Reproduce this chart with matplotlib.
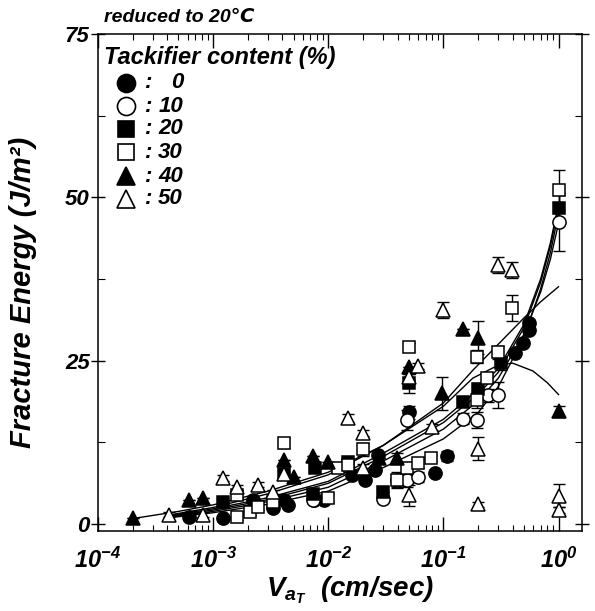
import matplotlib
matplotlib.use("Agg")
import matplotlib.pyplot as plt
import numpy as np
from matplotlib.ticker import LogLocator, FixedLocator, NullFormatter

plt.rcParams['font.family'] = ['Liberation Sans', 'DejaVu Sans']
plt.rcParams['font.weight'] = 'bold'
plt.rcParams['font.style'] = 'italic'
plt.rcParams['mathtext.fontset'] = 'custom'
plt.rcParams['mathtext.rm'] = 'Liberation Sans:bold:italic'
plt.rcParams['mathtext.it'] = 'Liberation Sans:bold:italic'
plt.rcParams['mathtext.bf'] = 'Liberation Sans:bold:italic'
plt.rcParams['mathtext.default'] = 'it'

# ---------------- data ----------------
labels = ['0', '10', '20', '30', '40', '50']

x0 = [6.2e-4, 1.22e-3, 2.2e-3, 3.3e-3, 4.1e-3, 4.5e-3, 7.5e-3, 9.2e-3, 0.0162, 0.0209, 0.0256, 0.027, 0.05, 0.085, 0.108, 0.42, 0.49, 0.55, 0.55]
y0 = [1.1, 0.9, 3.6, 2.4, 3.7, 2.9, 3.7, 3.7, 7.5, 6.7, 8.3, 10.6, 17.1, 7.8, 10.4, 26.2, 27.7, 29.7, 30.8]
e0 = [0, 0, 0, 0, 0, 0, 0, 0, 0, 0, 0, 0, 1.0, 0, 0.8, 0, 0, 0, 0]

x10 = [7.4e-3, 0.03, 0.0398, 0.0486, 0.0486, 0.0607, 0.149, 0.197, 0.246, 0.296, 1.0]
y10 = [3.6, 3.8, 6.7, 6.7, 15.9, 7.2, 16.1, 15.9, 19.7, 19.7, 46.2]
e10 = [0, 0, 1.0, 1.0, 1.5, 0.8, 0.8, 1.2, 1.0, 2.0, 4.5]

x20 = [1.22e-3, 4.1e-3, 7.4e-3, 7.7e-3, 0.0149, 0.03, 0.05, 0.149, 0.198, 0.315, 1.0]
y20 = [3.4, 7.7, 4.6, 8.6, 9.5, 4.9, 21.5, 18.7, 20.6, 24.6, 48.4]
e20 = [0, 0, 0, 0, 0, 0, 1.5, 0, 1.0, 1.0, 2.0]

x30 = [1.6e-3, 1.6e-3, 2.1e-3, 2.46e-3, 3.3e-3, 4.1e-3, 0.01, 0.0122, 0.0149, 0.0201, 0.0398, 0.0486, 0.05, 0.0607, 0.0787, 0.197, 0.197, 0.24, 0.296, 0.398, 1.0]
y30 = [1.1, 4.4, 1.8, 2.6, 3.4, 12.4, 4.0, 8.6, 9.0, 11.4, 6.7, 8.6, 27.1, 9.3, 10.1, 19.0, 25.6, 22.3, 26.3, 33.0, 51.1]
e30 = [0.5, 0.5, 0.5, 0.5, 0, 0.8, 0.6, 0.6, 0.6, 1.0, 1.2, 0.8, 0.6, 0.8, 0.5, 1.2, 1.0, 0.5, 1.0, 2.0, 3.0]

x40 = [2e-4, 6.2e-4, 8.2e-4, 4.1e-3, 5.0e-3, 7.4e-3, 0.01, 0.0277, 0.0398, 0.05, 0.098, 0.149, 0.198, 1.0]
y40 = [0.9, 3.7, 3.9, 9.8, 7.2, 10.4, 9.5, 10.1, 10.1, 24.0, 20.0, 29.8, 28.5, 17.2]
e40 = [0, 0, 0, 0, 0, 0, 0, 0, 0.8, 0, 2.5, 0, 2.5, 0.9]

x50 = [4.1e-4, 8.2e-4, 1.22e-3, 1.6e-3, 2.46e-3, 3.3e-3, 4.1e-3, 0.0149, 0.0201, 0.0201, 0.05, 0.05, 0.0607, 0.08, 0.1, 0.2, 0.2, 0.296, 0.398, 1.0, 1.0]
y50 = [1.4, 1.4, 7.0, 5.6, 6.0, 4.9, 7.6, 16.2, 13.9, 8.6, 4.4, 22.5, 24.2, 14.8, 32.7, 11.5, 3.0, 39.6, 38.9, 4.3, 2.1]
e50 = [0.4, 0.4, 0.4, 0.4, 0.4, 0.3, 0.4, 0.6, 0.5, 0.6, 1.6, 0.5, 0.5, 0.5, 1.2, 1.8, 0.4, 1.2, 1.2, 1.8, 0.5]

# fitted curves
cx0 = [4e-4, 1e-3, 3e-3, 1e-2, 3e-2, 0.1, 0.2, 0.3, 0.5, 0.7, 0.85, 1.0]
cy0 = [0.9, 1.7, 3.0, 5.0, 8.6, 13.0, 17.0, 21.0, 28.5, 36.0, 41.5, 47.5]
cx10 = [4e-4, 1e-3, 3e-3, 1e-2, 3e-2, 0.1, 0.2, 0.3, 0.5, 0.7, 0.85, 1.0]
cy10 = [1.0, 1.9, 3.4, 5.6, 9.6, 14.5, 18.8, 22.3, 29.0, 35.5, 40.5, 46.0]
cx20 = [4e-4, 1e-3, 3e-3, 1e-2, 3e-2, 0.1, 0.2, 0.3, 0.5, 0.7, 0.85, 1.0]
cy20 = [1.2, 2.3, 4.0, 6.5, 10.8, 16.0, 20.5, 23.8, 30.5, 37.5, 43.0, 49.0]
cx30 = [4e-4, 1e-3, 3e-3, 1e-2, 3e-2, 0.1, 0.2, 0.3, 0.5, 0.7, 0.85, 1.0]
cy30 = [1.1, 2.1, 3.7, 6.2, 10.3, 15.5, 19.8, 23.2, 30.0, 37.0, 42.5, 48.5]
cx40 = [2e-4, 5e-4, 1e-3, 3e-3, 1e-2, 3e-2, 0.1, 0.18, 0.3, 0.4, 0.6, 0.8, 1.0]
cy40 = [0.8, 1.9, 2.9, 5.0, 7.9, 12.0, 18.0, 22.3, 24.3, 24.6, 23.4, 21.6, 19.8]
cx50 = [4e-4, 1e-3, 3e-3, 1e-2, 3e-2, 0.1, 0.18, 0.3, 0.5, 0.7, 1.0]
cy50 = [1.3, 2.5, 4.6, 7.5, 12.0, 18.5, 23.5, 27.5, 31.5, 34.0, 36.3]

xticks = [1e-4, 1e-3, 1e-2, 1e-1, 1e0]
xticklabels = [r'$10^{-4}$', r'$10^{-3}$', r'$10^{-2}$', r'$10^{-1}$', r'$10^{0}$']
yticks = [0, 25, 50, 75]

# ---------------- figure ----------------
fig = plt.figure(figsize=(5.95, 6.11), dpi=100)
ax = fig.add_axes([98/595, 1-531/611, 484/595, 497/611])
ax.set_xscale('log')
ax.set_xlim(1e-4, 1.6)
ax.set_ylim(-1.1, 75)

series = [
    (x0, y0, e0, 'o', 'black', 9.5),
    (x10, y10, e10, 'o', 'white', 9.5),
    (x20, y20, e20, 's', 'black', 8.5),
    (x30, y30, e30, 's', 'white', 8.5),
    (x40, y40, e40, '^', 'black', 9.5),
    (x50, y50, e50, '^', 'white', 9.5),
]
curves = [(cx0, cy0), (cx10, cy10), (cx20, cy20), (cx30, cy30), (cx40, cy40), (cx50, cy50)]

for cx, cy in curves:
    ax.plot(cx, cy, color='black', lw=1.0, zorder=2)

for xs, ys, es, m, fc, ms in series:
    ax.errorbar(xs, ys, yerr=es, fmt='none', ecolor='black', elinewidth=1.0,
                capsize=4, capthick=1.0, zorder=3)
    ax.plot(xs, ys, linestyle='none', marker=m, mfc=fc, mec='black', mew=1.1,
            ms=ms, zorder=4)

# ticks
ax.xaxis.set_major_locator(FixedLocator(xticks))
ax.set_xticklabels(xticklabels)
ax.xaxis.set_minor_locator(LogLocator(base=10, subs=np.arange(2, 10)))
ax.xaxis.set_minor_formatter(NullFormatter())
ax.set_yticks(yticks)
ax.set_yticklabels([str(v) for v in yticks])
ax.set_yticks([12.5, 37.5, 62.5], minor=True)

ax.tick_params(axis='x', which='major', direction='in', length=10, width=1,
               top=True, labelsize=17, pad=12)
ax.tick_params(axis='x', which='minor', direction='in', length=4, width=0.8, top=True)
ax.tick_params(axis='y', which='major', direction='inout', length=10, width=1,
               right=True, labelsize=16, pad=1)
ax.tick_params(axis='y', which='minor', direction='in', length=5, width=0.8, right=True)
for s in ax.spines.values():
    s.set_linewidth(1.1)

ax.set_xlabel(r'$V_{a_T}$  (cm/sec)', fontsize=20, fontweight='bold', fontstyle='italic')
ax.xaxis.set_label_coords(0.52, -0.088)
ax.set_ylabel('Fracture Energy (J/m²)', fontsize=21, fontweight='bold', fontstyle='italic')
ax.yaxis.set_label_coords(-0.125, 0.48)

fig.text(104/595, 1-17/611, 'reduced to 20℃', fontsize=14, fontweight='bold',
         fontstyle='italic', ha='left', va='center')

# legend (manual)
ax.text(0.012, 0.953, 'Tackifier content (%)', transform=ax.transAxes, fontsize=17,
        fontweight='bold', fontstyle='italic', ha='left', va='center')
markers_leg = [('o', 'black', 13), ('o', 'white', 13), ('s', 'black', 11.5),
               ('s', 'white', 11.5), ('^', 'black', 12.5), ('^', 'white', 12.5)]
row_y = [(531 - py) / 497 for py in [83, 106, 129, 152, 176, 199]]
for (m, fc, ms), ry, lab in zip(markers_leg, row_y, labels):
    ax.plot([(126-98)/484], [ry], transform=ax.transAxes, marker=m, mfc=fc,
            mec='black', mew=1.2, ms=ms, linestyle='none', clip_on=False, zorder=5)
    ax.text((144-98)/484, ry, ':', transform=ax.transAxes, fontsize=16,
            ha='left', va='center')
    ax.text((183-98)/484, ry, lab, transform=ax.transAxes, fontsize=16,
            ha='right', va='center')

fig.savefig('out.png', dpi=100)
